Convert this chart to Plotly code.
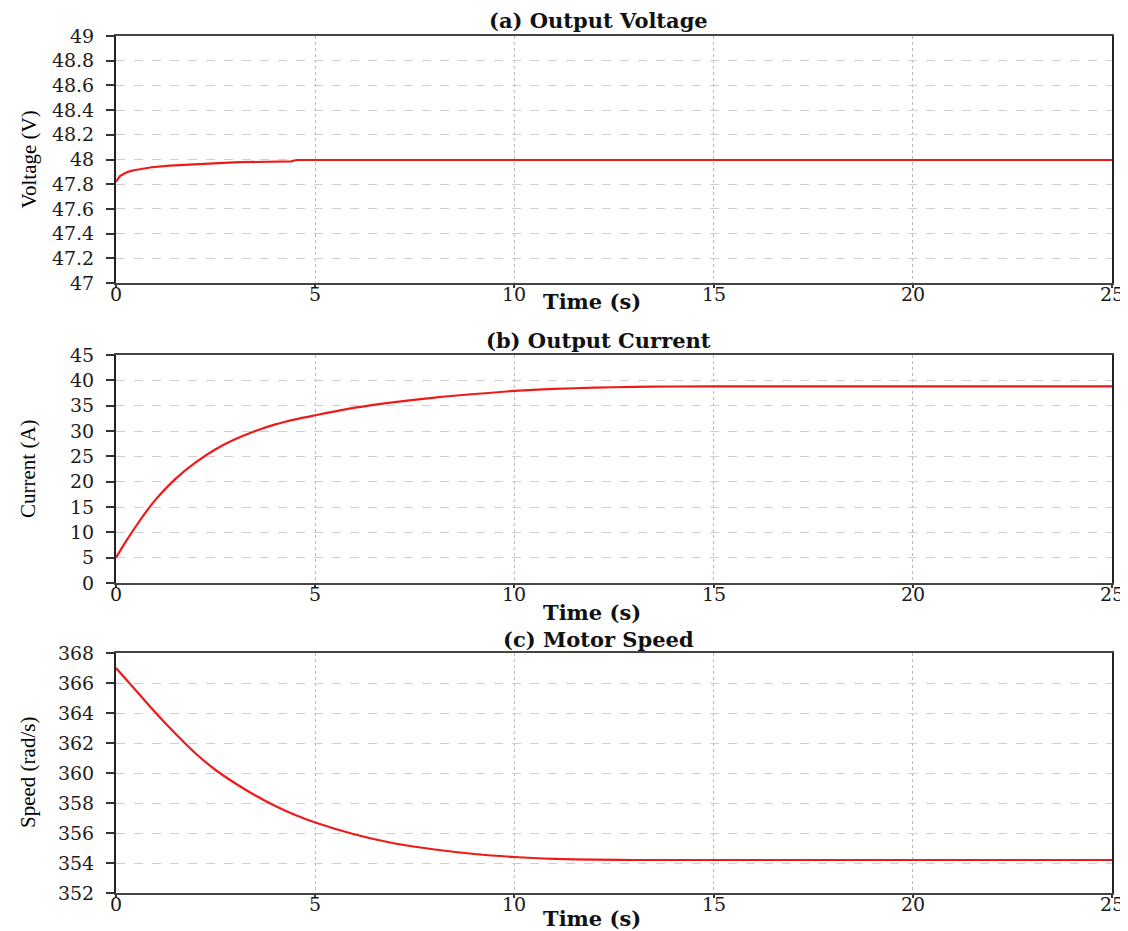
import plotly.graph_objects as go

# ---- data ----
t_voltage = [0.0, 0.05, 0.1, 0.2, 0.3, 0.45, 0.7, 0.9, 1.35, 1.8, 2.2, 2.7, 3.1, 3.7, 4.4, 4.5, 4.6, 6.0, 10.0, 15.0, 20.0, 25.0]
voltage   = [47.82, 47.845, 47.865, 47.885, 47.90, 47.913, 47.928, 47.937, 47.951, 47.96, 47.967, 47.973, 47.978, 47.982, 47.985, 47.994, 47.996, 47.996, 47.996, 47.996, 47.996, 47.996]

t_current = [0.0, 0.25, 0.5, 0.75, 1.0, 1.5, 2.0, 2.5, 3.0, 3.5, 4.0, 4.5, 5.0, 6.0, 7.0, 8.0, 9.0, 10.0, 11.0, 12.0, 13.0, 14.0, 15.0, 20.0, 25.0]
current   = [5.0, 8.2, 11.2, 14.0, 16.5, 20.6, 23.8, 26.4, 28.4, 30.0, 31.3, 32.3, 33.1, 34.6, 35.7, 36.6, 37.3, 37.9, 38.3, 38.55, 38.7, 38.78, 38.8, 38.8, 38.8]

t_speed = [0.0, 0.5, 1.0, 1.5, 2.0, 2.5, 3.0, 3.5, 4.0, 4.5, 5.0, 6.0, 7.0, 8.0, 9.0, 10.0, 11.0, 12.0, 13.0, 15.0, 20.0, 25.0]
speed   = [367.0, 365.5, 364.0, 362.6, 361.3, 360.2, 359.3, 358.5, 357.8, 357.2, 356.7, 355.9, 355.3, 354.9, 354.6, 354.4, 354.28, 354.22, 354.2, 354.2, 354.2, 354.2]

x_ticks = [0, 5, 10, 15, 20, 25]
v_ticks = [47, 47.2, 47.4, 47.6, 47.8, 48, 48.2, 48.4, 48.6, 48.8, 49]
i_ticks = [0, 5, 10, 15, 20, 25, 30, 35, 40, 45]
s_ticks = [352, 354, 356, 358, 360, 362, 364, 366, 368]

titles = ["(a) Output Voltage", "(b) Output Current", "(c) Motor Speed"]
ytitles = ["Voltage (V)", "Current (A)", "Speed (rad/s)"]
xtitle = "Time (s)"

# ---- layout geometry (the page body shifts the figure by 8px) ----
OFF = 8
W, H = 1128 - OFF, 931 - OFF
L0, R0, T0, B0 = 116, 1112, 36, 893   # plot block in screen pixels
ML, MR, MT, MB = L0 - OFF, W - (R0 - OFF), T0 - OFF, H - (B0 - OFF)
plot_h = H - MT - MB
plot_w = W - ML - MR

def py(pix):  # screen pixel y -> paper y
    return (B0 - pix) / plot_h

def px(pix):
    return (pix - L0) / plot_w

axis_bottom = [283, 583, 893]
domains = [[py(283), py(36)], [py(583), py(355)], [py(893), py(653)]]
ranges = [[47, 49], [0, 45], [352, 368]]
yticks = [v_ticks, i_ticks, s_ticks]
shapes = ["linear", "spline", "spline"]

TICKFONT = dict(family="DejaVu Serif", size=19, color="#1a1a1a")
RED = "#ee1a1a"

fig = go.Figure()
ann = []
series = [(t_voltage, voltage), (t_current, current), (t_speed, speed)]
for k, (tx, ty) in enumerate(series):
    sfx = "" if k == 0 else str(k + 1)
    fig.add_trace(go.Scatter(x=tx, y=ty, mode="lines",
                             line=dict(color=RED, width=2.2, shape=shapes[k], smoothing=0.8),
                             xaxis="x" + sfx, yaxis="y" + sfx, showlegend=False, hoverinfo="skip"))
    fig.layout["xaxis" + sfx] = dict(
        domain=[0, 1], range=[0, 25], anchor="y" + sfx, tickvals=x_ticks,
        showgrid=True, gridcolor="#b8b8b8", griddash="dot", gridwidth=1,
        showline=True, linecolor="#444", linewidth=2, mirror=True,
        ticks="outside", ticklen=3, tickcolor="#333", tickwidth=2,
        showticklabels=False, zeroline=False, fixedrange=True, automargin=False)
    fig.layout["yaxis" + sfx] = dict(
        domain=domains[k], range=ranges[k], anchor="x" + sfx, tickvals=yticks[k],
        ticktext=[("%g" % v) for v in yticks[k]],
        showgrid=True, gridcolor="#cfcfcf", griddash="dash", gridwidth=1,
        showline=True, linecolor="#222", linewidth=2, mirror=True,
        ticks="outside", ticklen=8, tickcolor="#333", tickwidth=2,
        ticklabelstandoff=8,
        tickfont=TICKFONT, zeroline=False, fixedrange=True, automargin=False)
    # x tick labels placed just under the axis
    for tv in x_ticks:
        ann.append(dict(text=str(tv), x=tv, xref="x" + sfx, y=py(axis_bottom[k] + 11), yref="paper",
                        xanchor="center", yanchor="middle", showarrow=False, font=TICKFONT))

title_y = [20, 341, 639]
time_y = [301, 612, 919]
mids = [159.5, 469, 773]
for k in range(3):
    ann.append(dict(text="<b>%s</b>" % titles[k], x=px(598), y=py(title_y[k]), xref="paper", yref="paper",
                    xanchor="center", yanchor="middle", showarrow=False,
                    font=dict(family="DejaVu Serif", size=21, color="#111")))
    ann.append(dict(text="<b>%s</b>" % xtitle, x=px(592), y=py(time_y[k]), xref="paper", yref="paper",
                    xanchor="center", yanchor="middle", showarrow=False,
                    font=dict(family="DejaVu Serif", size=21, color="#111")))
    ann.append(dict(text=ytitles[k], x=px(28), y=py(mids[k]), xref="paper", yref="paper",
                    xanchor="center", yanchor="middle", showarrow=False, textangle=-90,
                    font=dict(family="Liberation Serif", size=21, color="#000")))

fig.update_layout(width=W, height=H, margin=dict(l=ML, r=MR, t=MT, b=MB, autoexpand=False),
                  paper_bgcolor="white", plot_bgcolor="white", annotations=ann)

fig.write_html("out.html")
